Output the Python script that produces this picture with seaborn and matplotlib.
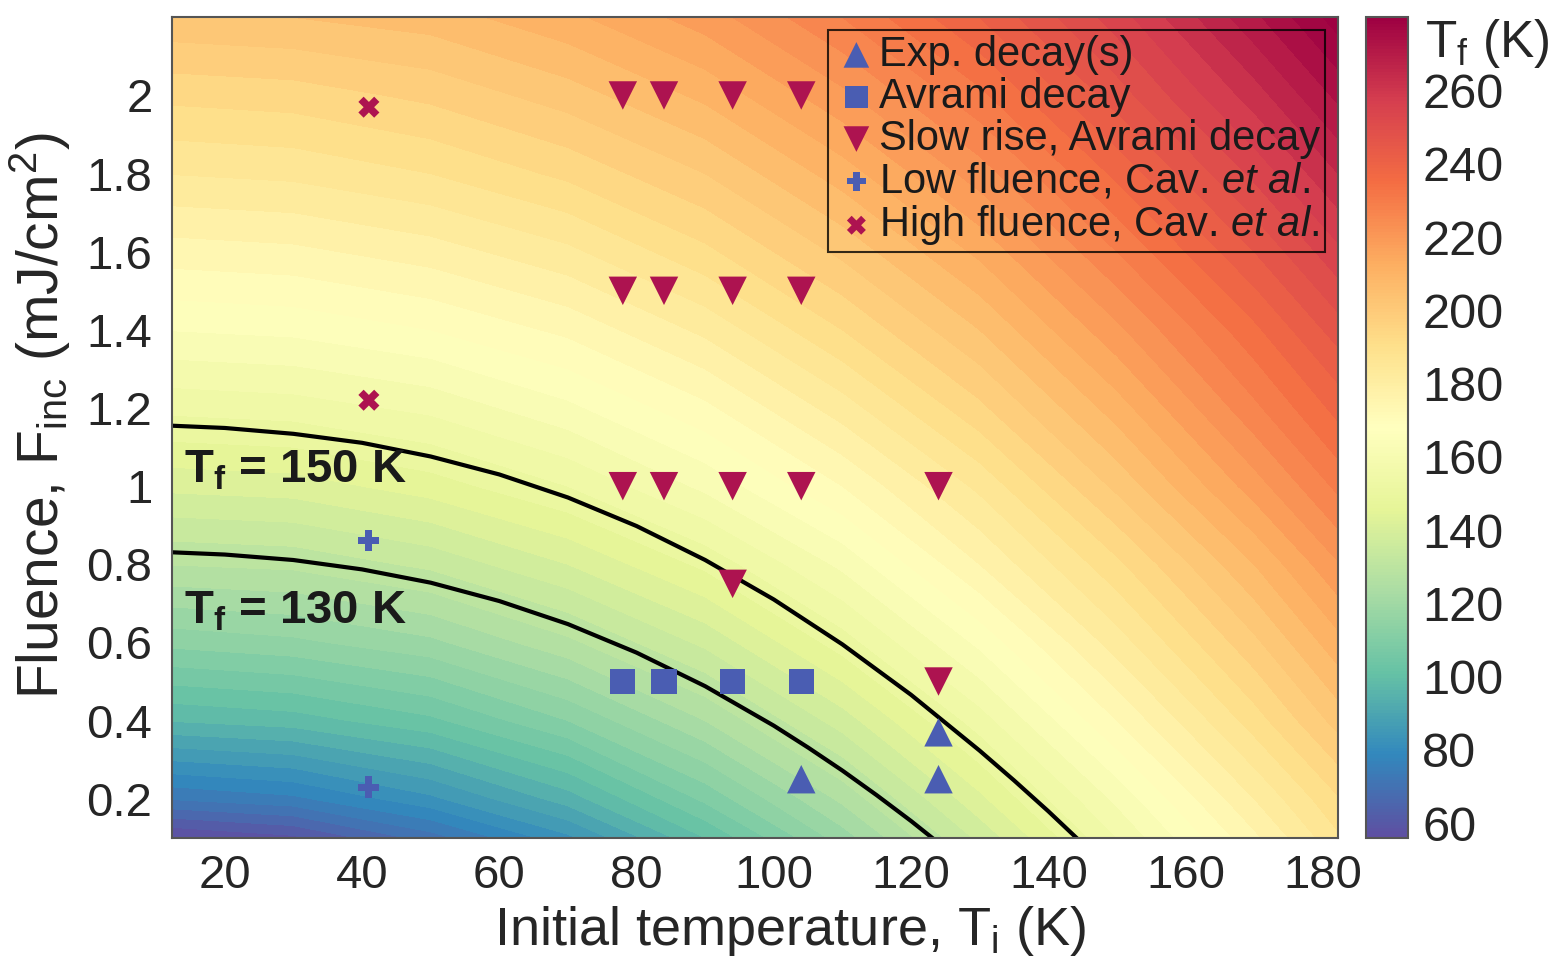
import numpy as np
import matplotlib
matplotlib.use('Agg')
import matplotlib.pyplot as plt
import seaborn as sns
from matplotlib.colors import Normalize
from matplotlib.cm import ScalarMappable

# final temperature map
ti_nodes = [10, 30, 50, 70, 90, 110, 130, 150, 170, 190]
f_nodes = [0.1, 0.2, 0.4, 0.6, 0.8, 1.0, 1.2, 1.4, 1.6, 1.8, 2.0, 2.2, 2.4]
tf_grid = [
    [55, 59, 70, 83, 100, 118, 137, 156, 175, 195],
    [72, 75, 83, 94, 109, 125, 143, 161, 180, 199],
    [96, 98, 103, 112, 124, 138, 154, 172, 190, 209],
    [113, 115, 119, 127, 137, 150, 165, 182, 199, 218],
    [128, 129, 133, 140, 149, 161, 176, 191, 208, 227],
    [141, 142, 146, 152, 161, 172, 185, 201, 218, 236],
    [153, 154, 157, 163, 171, 182, 195, 210, 227, 244],
    [164, 165, 168, 173, 181, 192, 204, 219, 235, 253],
    [174, 175, 178, 183, 191, 201, 213, 228, 244, 262],
    [184, 185, 188, 193, 200, 210, 222, 237, 253, 271],
    [193, 194, 197, 202, 209, 219, 231, 246, 262, 280],
    [203, 204, 206, 211, 218, 228, 240, 254, 271, 289],
    [212, 213, 216, 220, 227, 237, 249, 263, 280, 298],
]

# iso-temperature curves
iso150_ti = [12, 20, 30, 40, 50, 60, 70, 80, 90, 100, 110, 120, 130, 135, 140, 145]
iso150_f = [1.155, 1.149, 1.134, 1.111, 1.076, 1.030, 0.971, 0.898, 0.811, 0.710,
            0.595, 0.466, 0.323, 0.247, 0.168, 0.085]
iso130_ti = [12, 20, 30, 40, 50, 60, 70, 80, 90, 100, 105, 110, 115, 120, 125]
iso130_f = [0.831, 0.825, 0.811, 0.787, 0.753, 0.706, 0.647, 0.574, 0.488, 0.387,
            0.331, 0.272, 0.209, 0.143, 0.073]

# measurements
exp_ti = [104, 124, 124]
exp_f = [0.25, 0.25, 0.37]
avr_ti = [78, 84, 94, 104]
avr_f = [0.5, 0.5, 0.5, 0.5]
slow_ti = [78, 84, 94, 104, 78, 84, 94, 104, 78, 84, 94, 104, 124, 94, 124]
slow_f = [2.0, 2.0, 2.0, 2.0, 1.5, 1.5, 1.5, 1.5, 1.0, 1.0, 1.0, 1.0, 1.0, 0.75, 0.5]
low_ti = [41, 41]
low_f = [0.86, 0.23]
high_ti = [41, 41]
high_f = [1.97, 1.22]

blue = '#4a5db2'
red = '#ad1350'

sns.set_style('white')
plt.rcParams['font.family'] = ['Liberation Sans', 'DejaVu Sans']
plt.rcParams['mathtext.fontset'] = 'custom'
plt.rcParams['mathtext.rm'] = 'Liberation Sans'
plt.rcParams['mathtext.sf'] = 'Liberation Sans'
plt.rcParams['mathtext.it'] = 'Liberation Sans:italic'
plt.rcParams['mathtext.bf'] = 'Liberation Sans:bold'

fig = plt.figure(figsize=(15.63, 9.63), dpi=100)
ax = fig.add_axes([0.110, 0.130, 0.746, 0.852])
cax = fig.add_axes([0.874, 0.130, 0.027, 0.852])

norm = Normalize(56, 280)
ax.contourf(ti_nodes, f_nodes, tf_grid, levels=np.arange(52, 304, 4),
            cmap='Spectral_r', norm=norm)

ax.plot(iso150_ti, iso150_f, color='black', lw=3)
ax.plot(iso130_ti, iso130_f, color='black', lw=3)

sns.scatterplot(x=exp_ti, y=exp_f, marker='^', s=420, color=blue, edgecolor='none',
                ax=ax, label='Exp. decay(s)', zorder=5)
sns.scatterplot(x=avr_ti, y=avr_f, marker='s', s=330, color=blue, edgecolor='none',
                ax=ax, label='Avrami decay', zorder=5)
sns.scatterplot(x=slow_ti, y=slow_f, marker='v', s=420, color=red, edgecolor='none',
                ax=ax, label='Slow rise, Avrami decay', zorder=5)
sns.scatterplot(x=low_ti, y=low_f, marker='P', s=230, color=blue, edgecolor='none',
                ax=ax, label=r'Low fluence, Cav. $\mathit{et\ al.}$', zorder=5)
sns.scatterplot(x=high_ti, y=high_f, marker='X', s=230, color=red, edgecolor='none',
                ax=ax, label=r'High fluence, Cav. $\mathit{et\ al.}$', zorder=5)

ax.set_xlim(12.3, 182.2)
ax.set_ylim(0.1, 2.2)
ax.set_xticks(range(20, 181, 20))
ax.set_yticks([0.2, 0.4, 0.6, 0.8, 1.0, 1.2, 1.4, 1.6, 1.8, 2.0])
ax.set_yticklabels(['0.2', '0.4', '0.6', '0.8', '1', '1.2', '1.4', '1.6', '1.8', '2'])
ax.tick_params(axis='both', direction='in', length=6, width=1, color='#444444')
ax.tick_params(axis='y', labelsize=34, pad=14)
ax.tick_params(axis='x', labelsize=34, pad=12)
for sp in ax.spines.values():
    sp.set_color('#555555')
    sp.set_linewidth(1.5)

ax.set_xlabel(r'Initial temperature, T$_{\mathrm{i}}$ (K)', fontsize=39, labelpad=4)
ax.set_ylabel(r'Fluence, F$_{\mathrm{inc}}$ (mJ/cm$^{\mathrm{2}}$)', fontsize=41,
              labelpad=10)
ax.xaxis.label.set_x(0.53)
ax.yaxis.label.set_y(0.515)

ax.text(14, 1.04, r'$\mathbf{T_f}$ = 150 K', fontsize=34, fontweight='bold',
        color='#1a1a1a', va='center')
ax.text(14, 0.68, r'$\mathbf{T_f}$ = 130 K', fontsize=34, fontweight='bold',
        color='#1a1a1a', va='center')

leg = ax.legend(loc='upper right', fontsize=30, frameon=True,
                edgecolor='black', fancybox=False, borderaxespad=0.3,
                handletextpad=0.0, labelspacing=0.05, borderpad=0.12,
                markerscale=0.9, handlelength=1.1)
leg.get_frame().set_facecolor('none')
leg.get_frame().set_linewidth(1.5)
for t in leg.get_texts():
    t.set_color('#1a1a1a')

cb = fig.colorbar(ScalarMappable(norm=norm, cmap='Spectral_r'), cax=cax)
cb.set_ticks(range(60, 261, 20))
cb.ax.tick_params(labelsize=35, direction='in', length=10, width=1.2, pad=10)
cb.outline.set_edgecolor('#555555')
cb.outline.set_linewidth(1.5)
cax.text(1.4, 1.0, r'T$_{\mathsf{f}}$ (K)', transform=cax.transAxes, fontsize=37,
         va='top', ha='left')

fig.savefig('out.png', dpi=100)
